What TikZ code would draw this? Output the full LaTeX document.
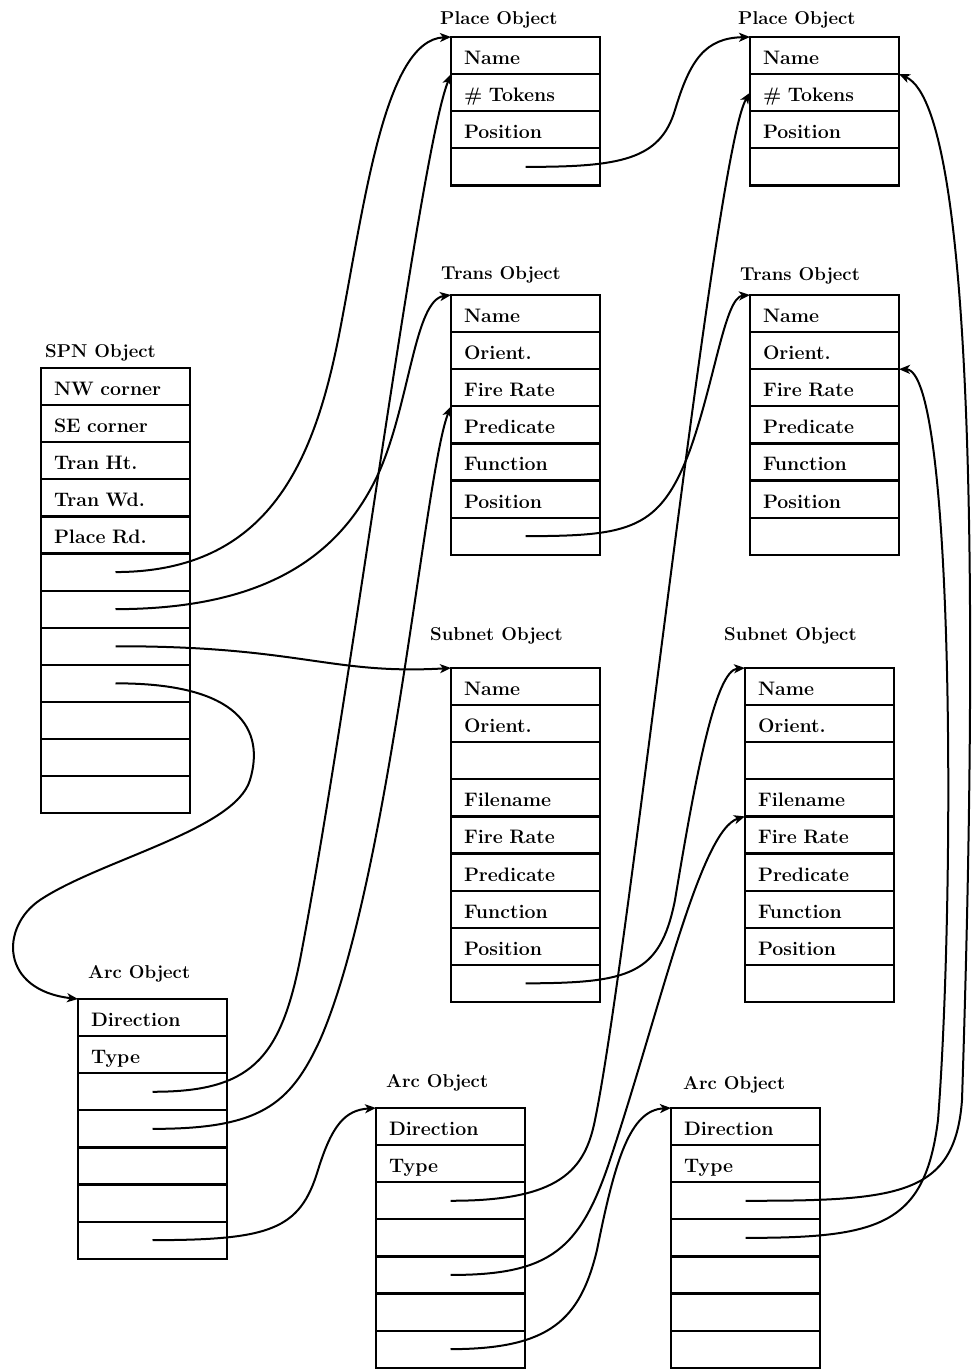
\documentclass[tikz,border=0pt]{standalone}
\usepackage{tikz}
\usetikzlibrary{positioning,arrows.meta}

\begin{document}
\begin{tikzpicture}[x=1pt, y=-1pt, font=\bfseries]
        \useasboundingbox (0,0) rectangle (975,1369);
        % record titles
        \begin{scope}[every node/.style={anchor=base west, inner sep=0pt, font=\fontsize{18.6}{22}\selectfont\bfseries}]
                \node (spnT) at (45,357) {SPN Object};
                \node (p1T) at (440,24) {Place Object};
                \node (p2T) at (738,24) {Place Object};
                \node (t1T) at (441,279) {Trans Object};
                \node (t2T) at (740,280) {Trans Object};
                \node (s1T) at (430,640) {Subnet Object};
                \node (s2T) at (724,640) {Subnet Object};
                \node (a1T) at (88,978) {Arc Object};
                \node (a2T) at (386,1087) {Arc Object};
                \node (a3T) at (683,1089) {Arc Object};
        \end{scope}
        % record fields
        \begin{scope}[node distance=0pt, every node/.style={draw, line width=2.2pt, anchor=north west, outer sep=0pt, minimum height=37.1pt, text width=123pt, inner xsep=13pt, inner ysep=0pt, text height=18pt, text depth=0pt, align=left, font=\fontsize{19.5}{22}\selectfont\bfseries}]
                % SPN object
                \node (spn1) at (41,368) {NW corner};
                \node (spn2) [below=of spn1] {SE corner};
                \node (spn3) [below=of spn2] {Tran Ht.};
                \node (spn4) [below=of spn3] {Tran Wd.};
                \node (spn5) [below=of spn4] {Place Rd.};
                \node (spn6) [below=of spn5] {};
                \node (spn7) [below=of spn6] {};
                \node (spn8) [below=of spn7] {};
                \node (spn9) [below=of spn8] {};
                \node (spn10) [below=of spn9] {};
                \node (spn11) [below=of spn10] {};
                \node (spn12) [below=of spn11] {};
                % place objects
                \node (p1name) at (451,37) {Name};
                \node (p1tok) [below=of p1name] {\# Tokens};
                \node (p1pos) [below=of p1tok] {Position};
                \node (p1ptr) [below=of p1pos] {};
                \node (p2name) at (750,37) {Name};
                \node (p2tok) [below=of p2name] {\# Tokens};
                \node (p2pos) [below=of p2tok] {Position};
                \node (p2ptr) [below=of p2pos] {};
                % trans objects
                \node (t1name) at (451,295) {Name};
                \node (t1orient) [below=of t1name] {Orient.};
                \node (t1fire) [below=of t1orient] {Fire Rate};
                \node (t1pred) [below=of t1fire] {Predicate};
                \node (t1func) [below=of t1pred] {Function};
                \node (t1pos) [below=of t1func] {Position};
                \node (t1ptr) [below=of t1pos] {};
                \node (t2name) at (750,295) {Name};
                \node (t2orient) [below=of t2name] {Orient.};
                \node (t2fire) [below=of t2orient] {Fire Rate};
                \node (t2pred) [below=of t2fire] {Predicate};
                \node (t2func) [below=of t2pred] {Function};
                \node (t2pos) [below=of t2func] {Position};
                \node (t2ptr) [below=of t2pos] {};
                % subnet objects
                \node (s1name) at (451,668) {Name};
                \node (s1orient) [below=of s1name] {Orient.};
                \node (s1blank) [below=of s1orient] {};
                \node (s1file) [below=of s1blank] {Filename};
                \node (s1fire) [below=of s1file] {Fire Rate};
                \node (s1pred) [below=of s1fire] {Predicate};
                \node (s1func) [below=of s1pred] {Function};
                \node (s1pos) [below=of s1func] {Position};
                \node (s1ptr) [below=of s1pos] {};
                \node (s2name) at (745,668) {Name};
                \node (s2orient) [below=of s2name] {Orient.};
                \node (s2blank) [below=of s2orient] {};
                \node (s2file) [below=of s2blank] {Filename};
                \node (s2fire) [below=of s2file] {Fire Rate};
                \node (s2pred) [below=of s2fire] {Predicate};
                \node (s2func) [below=of s2pred] {Function};
                \node (s2pos) [below=of s2func] {Position};
                \node (s2ptr) [below=of s2pos] {};
                % arc objects
                \node (a1dir) at (78,999) {Direction};
                \node (a1type) [below=of a1dir] {Type};
                \node (a1r3) [below=of a1type] {};
                \node (a1r4) [below=of a1r3] {};
                \node (a1r5) [below=of a1r4] {};
                \node (a1r6) [below=of a1r5] {};
                \node (a1r7) [below=of a1r6] {};
                \node (a2dir) at (376,1108) {Direction};
                \node (a2type) [below=of a2dir] {Type};
                \node (a2r3) [below=of a2type] {};
                \node (a2r4) [below=of a2r3] {};
                \node (a2r5) [below=of a2r4] {};
                \node (a2r6) [below=of a2r5] {};
                \node (a2r7) [below=of a2r6] {};
                \node (a3dir) at (671,1108) {Direction};
                \node (a3type) [below=of a3dir] {Type};
                \node (a3r3) [below=of a3type] {};
                \node (a3r4) [below=of a3r3] {};
                \node (a3r5) [below=of a3r4] {};
                \node (a3r6) [below=of a3r5] {};
                \node (a3r7) [below=of a3r6] {};
        \end{scope}
        % pointers
        \begin{scope}[every path/.style={line width=2pt, line join=round, ->, >={Stealth[length=11pt, width=9pt, inset=3pt]}}]
                \draw (spn6.center) .. controls (270,572) and (315,460) .. (340,330) .. controls (365,200) and (385,40) .. (p1name.north west);
                \draw (spn7.center) .. controls (260,609) and (340,560) .. (380,470) .. controls (410,400) and (415,300) .. (t1name.north west);
                \draw (spn8.center) .. controls (300,646) and (330,675) .. (s1name.north west);
                \draw (spn9.center) .. controls (240,683) and (265,730) .. (250,780) .. controls (235,830) and (100,860) .. (40,900) .. controls (0,927) and (0,990) .. (a1dir.north west);
                \draw (a1r3.center) .. controls (250,1092) and (280,1060) .. (300,960) .. controls (350,700) and (420,150) .. (p1tok.north west);
                \draw (a1r4.center) .. controls (260,1129) and (290,1105) .. (320,1040) .. controls (390,880) and (425,470) .. (t1pred.north west);
                \draw (a1r7.center) .. controls (270,1240) and (300,1230) .. (318,1170) .. controls (332,1125) and (345,1110) .. (a2dir.north west);
                \draw (p1ptr.center) .. controls (620,167) and (660,160) .. (675,110) .. controls (690,60) and (705,38) .. (p2name.north west);
                \draw (t1ptr.center) .. controls (630,536) and (660,530) .. (690,450) .. controls (715,380) and (725,297) .. (t2name.north west);
                \draw (s1ptr.center) .. controls (630,983) and (660,975) .. (675,900) .. controls (695,780) and (715,670) .. (s2name.north west);
                \draw (a2r3.center) .. controls (560,1201) and (585,1170) .. (595,1120) .. controls (630,950) and (715,150) .. (p2tok.west);
                \draw (a2r5.center) .. controls (550,1275) and (580,1250) .. (610,1160) .. controls (660,1010) and (700,830) .. (s2fire.north west);
                \draw (a2r7.center) .. controls (550,1349) and (580,1320) .. (597,1250) .. controls (615,1160) and (630,1110) .. (a3dir.north west);
                \draw (a3r3.center) .. controls (900,1201) and (955,1195) .. (962,1100) .. controls (975,700) and (982,110) .. (p2tok.north east);
                \draw (a3r4.center) .. controls (880,1238) and (925,1225) .. (938,1120) .. controls (955,900) and (955,370) .. (t2fire.north east);
        \end{scope}
\end{tikzpicture}
\end{document}
